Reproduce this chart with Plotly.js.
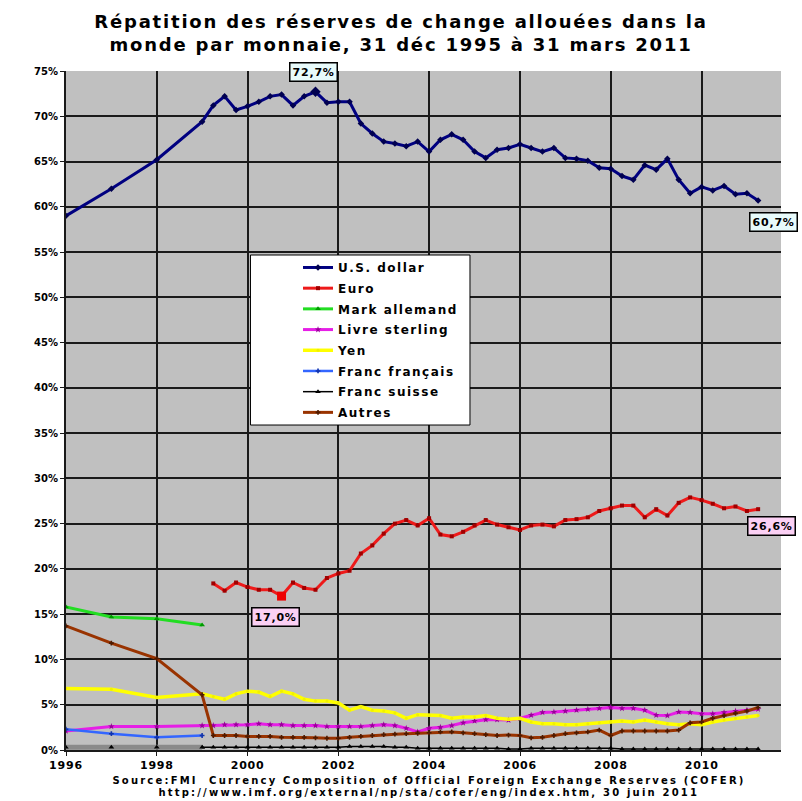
<!DOCTYPE html>
<html>
<head>
<meta charset="utf-8">
<script src="https://cdn.plot.ly/plotly-3.0.1.min.js"></script>
<style>
  html, body { margin: 0; padding: 0; background: #ffffff; }
  #chart { width: 802px; height: 801px; }
  .gtitle { letter-spacing: 1.8px; }
  .legendtext { letter-spacing: 1.5px; }
  .annotation-text { letter-spacing: 0.8px; }
  .xtick text { letter-spacing: 0.8px; }
</style>
</head>
<body>
<div id="chart"></div>
<script>
// ---- Dates (31 Dec of each year 1995-1998, then quarter ends 1999Q1..2011Q1)
const annualDates = ['1995-12-31', '1996-12-31', '1997-12-31', '1998-12-31'];
const quarterDates = [
  '1999-03-31', '1999-06-30', '1999-09-30', '1999-12-31',
  '2000-03-31', '2000-06-30', '2000-09-30', '2000-12-31',
  '2001-03-31', '2001-06-30', '2001-09-30', '2001-12-31',
  '2002-03-31', '2002-06-30', '2002-09-30', '2002-12-31',
  '2003-03-31', '2003-06-30', '2003-09-30', '2003-12-31',
  '2004-03-31', '2004-06-30', '2004-09-30', '2004-12-31',
  '2005-03-31', '2005-06-30', '2005-09-30', '2005-12-31',
  '2006-03-31', '2006-06-30', '2006-09-30', '2006-12-31',
  '2007-03-31', '2007-06-30', '2007-09-30', '2007-12-31',
  '2008-03-31', '2008-06-30', '2008-09-30', '2008-12-31',
  '2009-03-31', '2009-06-30', '2009-09-30', '2009-12-31',
  '2010-03-31', '2010-06-30', '2010-09-30', '2010-12-31',
  '2011-03-31'
];

// ---- Shares (%)
const usdAnnual = [59.0, 62.0, 65.2, 69.4];
const usdQuarterly = [
  71.2, 72.2, 70.7, 71.1,
  71.6, 72.2, 72.4, 71.2,
  72.2, 72.7, 71.5, 71.6,
  71.6, 69.2, 68.1, 67.2,
  67.0, 66.7, 67.2, 66.1,
  67.4, 68.0, 67.4, 66.1,
  65.4, 66.3, 66.5, 66.9,
  66.5, 66.1, 66.5, 65.4,
  65.3, 65.1, 64.3, 64.2,
  63.4, 63.0, 64.6, 64.1,
  65.3, 63.0, 61.5, 62.2,
  61.8, 62.3, 61.4, 61.5,
  60.7
];
const euroQuarterly = [
  18.4, 17.6, 18.5, 18.0,
  17.7, 17.7, 17.0, 18.5,
  17.9, 17.7, 19.0, 19.5,
  19.8, 21.7, 22.6, 23.9,
  25.0, 25.4, 24.8, 25.6,
  23.8, 23.6, 24.1, 24.8,
  25.4, 24.9, 24.6, 24.3,
  24.8, 24.9, 24.7, 25.4,
  25.5, 25.7, 26.4, 26.7,
  27.0, 27.0, 25.7, 26.6,
  25.9, 27.3, 27.9, 27.6,
  27.2, 26.7, 26.9, 26.4,
  26.6
];
const markAnnual = [15.8, 14.7, 14.5, 13.8];
const gbpAnnual = [2.1, 2.6, 2.6, 2.7];
const gbpQuarterly = [
  2.7, 2.8, 2.8, 2.8,
  2.9, 2.8, 2.8, 2.7,
  2.7, 2.7, 2.6, 2.6,
  2.6, 2.6, 2.7, 2.8,
  2.7, 2.4, 2.0, 2.4,
  2.5, 2.7, 3.0, 3.2,
  3.35, 3.35, 3.3, 3.5,
  3.85, 4.15, 4.2, 4.3,
  4.4, 4.5, 4.6, 4.7,
  4.6, 4.6, 4.4, 3.85,
  3.8, 4.2, 4.15, 4.0,
  4.0, 4.15, 4.3, 4.4,
  4.5
];
const jpyAnnual = [6.8, 6.7, 5.8, 6.2];
const jpyQuarterly = [
  5.9, 5.6, 6.2, 6.5,
  6.4, 5.9, 6.5, 6.2,
  5.6, 5.4, 5.4, 5.2,
  4.4, 4.8, 4.4, 4.3,
  4.1, 3.5, 3.9, 3.85,
  3.8, 3.5, 3.65, 3.65,
  3.8, 3.5, 3.4, 3.5,
  3.1, 2.9, 2.9, 2.8,
  2.8, 2.9, 3.0, 3.1,
  3.2, 3.1, 3.3, 3.1,
  2.9, 2.8, 2.9, 2.8,
  3.1, 3.3, 3.5, 3.65,
  3.8
];
const frfAnnual = [2.3, 1.8, 1.4, 1.6];
const chfAnnual = [0.3, 0.3, 0.3, 0.3];
const chfQuarterly = [
  0.3, 0.3, 0.3, 0.3,
  0.3, 0.3, 0.3, 0.3,
  0.3, 0.3, 0.3, 0.3,
  0.4, 0.4, 0.4, 0.4,
  0.3, 0.3, 0.2, 0.2,
  0.2, 0.2, 0.2, 0.2,
  0.2, 0.2, 0.1, 0.1,
  0.2, 0.2, 0.2, 0.2,
  0.2, 0.2, 0.2, 0.2,
  0.1, 0.1, 0.1, 0.1,
  0.1, 0.1, 0.1, 0.1,
  0.1, 0.1, 0.1, 0.1,
  0.1
];
const otherAnnual = [13.7, 11.8, 10.1, 6.1];
const otherQuarterly = [
  1.6, 1.6, 1.6, 1.5,
  1.5, 1.5, 1.4, 1.4,
  1.4, 1.35, 1.3, 1.3,
  1.4, 1.5, 1.6, 1.7,
  1.75, 1.8, 1.85, 1.9,
  2.0, 2.0, 1.9, 1.8,
  1.7, 1.6, 1.65, 1.6,
  1.35, 1.4, 1.6, 1.8,
  1.9, 2.0, 2.2, 1.6,
  2.1, 2.1, 2.1, 2.1,
  2.1, 2.2, 3.0, 3.1,
  3.5, 3.8, 4.05, 4.3,
  4.7
];

const seriesNames = ['U.S. dollar', 'Euro', 'Mark allemand', 'Livre sterling', 'Yen', 'Franc français', 'Franc suisse', 'Autres'];
const yTickVals = [0, 5, 10, 15, 20, 25, 30, 35, 40, 45, 50, 55, 60, 65, 70, 75];
const yTickText = ['0%', '5%', '10%', '15%', '20%', '25%', '30%', '35%', '40%', '45%', '50%', '55%', '60%', '65%', '70%', '75%'];
const xTickVals = ['1996-01-01', '1998-01-01', '2000-01-01', '2002-01-01', '2004-01-01', '2006-01-01', '2008-01-01', '2010-01-01'];
const xTickText = ['1996', '1998', '2000', '2002', '2004', '2006', '2008', '2010'];
const titleLines = ['Répatition des réserves de change allouées dans la', 'monde par monnaie, 31 déc 1995 à 31 mars 2011'];
const sourceLines = ['Source:FMI  Currency Composition of Official Foreign Exchange Reserves (COFER)',
                     'http://www.imf.org/external/np/sta/cofer/eng/index.htm, 30 juin 2011'];

// ---- Build traces
const allDates = annualDates.concat(quarterDates);
const FONT = 'DejaVu Sans, Verdana, sans-serif';

function tr(name, x, y, lineColor, width, symbol, mcolor, msize) {
  return {
    type: 'scatter', mode: 'lines+markers', name: name, legendgroup: name,
    x: x, y: y,
    line: { color: lineColor, width: width },
    marker: { symbol: symbol, color: mcolor, size: msize, line: { width: 0 } },
    hoverinfo: 'skip'
  };
}

const traces = [
  tr(seriesNames[0], allDates, usdAnnual.concat(usdQuarterly), '#000080', 3, 'diamond', '#000050', 5),
  tr(seriesNames[1], quarterDates, euroQuarterly, '#ee1a1a', 3, 'square', '#a00000', 4),
  tr(seriesNames[2], annualDates, markAnnual, '#22dd22', 3, 'triangle-up', '#009900', 5),
  tr(seriesNames[3], allDates, gbpAnnual.concat(gbpQuarterly), '#e61ee6', 3, 'star', '#990099', 5),
  tr(seriesNames[4], allDates, jpyAnnual.concat(jpyQuarterly), '#ffff00', 3.5, 'circle', '#f0f000', 3),
  tr(seriesNames[5], annualDates, frfAnnual, '#3366ff', 2.5, 'cross', '#1133aa', 4),
  tr(seriesNames[6], [annualDates[3]].concat(quarterDates), [chfAnnual[3]].concat(chfQuarterly), '#000000', 1.5, 'triangle-up', '#000000', 5),
  tr(seriesNames[7], allDates, otherAnnual.concat(otherQuarterly), '#993300', 3, 'cross', '#4d1a00', 4)
];
// annual Swiss franc segment drawn as grey band
const chfBand = tr(seriesNames[6], annualDates, chfAnnual, '#8a8a8a', 5, 'triangle-up', '#000000', 5);
chfBand.showlegend = false;
traces.push(chfBand);

// highlight euro minimum / dollar maximum with larger markers
let eMinIdx = 0;
euroQuarterly.forEach((v, i) => { if (v < euroQuarterly[eMinIdx]) eMinIdx = i; });
let uMaxIdx = 0;
usdQuarterly.forEach((v, i) => { if (v > usdQuarterly[uMaxIdx]) uMaxIdx = i; });
traces.push({
  type: 'scatter', mode: 'markers', showlegend: false, hoverinfo: 'skip',
  x: [quarterDates[eMinIdx]], y: [euroQuarterly[eMinIdx]],
  marker: { symbol: 'square', color: '#ee0000', size: 9 }
});
traces.push({
  type: 'scatter', mode: 'markers', showlegend: false, hoverinfo: 'skip',
  x: [quarterDates[uMaxIdx]], y: [usdQuarterly[uMaxIdx]],
  marker: { symbol: 'diamond', color: '#000050', size: 8 }
});

const fmt = v => v.toFixed(1).replace('.', ',') + '%';
const last = quarterDates.length - 1;

function label(x, y, text, bg, xs, ys) {
  return {
    x: x, y: y, xref: 'x', yref: 'y', text: text, showarrow: false,
    xshift: xs, yshift: ys,
    bgcolor: bg, bordercolor: '#000000', borderwidth: 1.5, borderpad: 2,
    font: { family: FONT, size: 11, color: '#000000', weight: 'bold' }
  };
}

const annotations = [
  label(quarterDates[uMaxIdx], usdQuarterly[uMaxIdx], fmt(usdQuarterly[uMaxIdx]), '#e8fbfb', -2, 20),
  label(quarterDates[last], usdQuarterly[last], fmt(usdQuarterly[last]), '#e8fbfb', 15, -22),
  label(quarterDates[eMinIdx], euroQuarterly[eMinIdx], fmt(euroQuarterly[eMinIdx]), '#fbd0f4', -6, -21),
  label(quarterDates[last], euroQuarterly[last], fmt(euroQuarterly[last]), '#fbd0f4', 13, -17),
  {
    xref: 'paper', yref: 'paper', x: 0.508, y: -0.0442, xanchor: 'center', yanchor: 'middle',
    text: sourceLines[0], showarrow: false,
    font: { family: FONT, size: 10, color: '#000000', weight: 'bold' }
  },
  {
    xref: 'paper', yref: 'paper', x: 0.508, y: -0.0633, xanchor: 'center', yanchor: 'middle',
    text: sourceLines[1], showarrow: false,
    font: { family: FONT, size: 10, color: '#000000', weight: 'bold' }
  }
];

const layout = {
  width: 802, height: 801,
  margin: { l: 66, r: 21, t: 71, b: 51, pad: 0 },
  paper_bgcolor: '#ffffff',
  plot_bgcolor: '#c0c0c0',
  showlegend: true,
  title: {
    text: titleLines.join('<br>'),
    x: 0.5, xanchor: 'center', xref: 'container',
    y: 0.9655, yanchor: 'top', yref: 'container',
    font: { family: FONT, size: 18, color: '#000000', weight: 'bold' }
  },
  xaxis: {
    type: 'date',
    range: ['1996-01-01', '2011-10-01'],
    tickvals: xTickVals, ticktext: xTickText,
    showgrid: true, gridcolor: '#1a1a1a', gridwidth: 2,
    showline: true, linecolor: '#1a1a1a', linewidth: 2,
    ticks: 'outside', ticklen: 4, tickcolor: '#1a1a1a',
    zeroline: false,
    tickfont: { family: FONT, size: 11, color: '#000000', weight: 'bold' }
  },
  yaxis: {
    range: [0, 75],
    tickvals: yTickVals, ticktext: yTickText,
    showgrid: true, gridcolor: '#1a1a1a', gridwidth: 2,
    showline: true, linecolor: '#1a1a1a', linewidth: 2,
    ticks: 'outside', ticklen: 4, tickcolor: '#1a1a1a',
    zeroline: false,
    tickfont: { family: FONT, size: 10, color: '#000000', weight: 'bold' }
  },
  legend: {
    x: 0.3245, xanchor: 'left', y: 0.732, yanchor: 'top',
    bgcolor: 'rgba(0,0,0,0)', borderwidth: 0,
    traceorder: 'grouped', tracegroupgap: 1.7,
    font: { family: FONT, size: 12, color: '#000000', weight: 'bold' }
  },
  shapes: [{
    type: 'rect', xref: 'paper', yref: 'paper',
    x0: 0.258, x1: 0.565, y0: 0.4786, y1: 0.729,
    fillcolor: '#ffffff', line: { color: '#000000', width: 1 }, layer: 'above'
  }],
  annotations: annotations
};

Plotly.newPlot('chart', traces, layout, { displayModeBar: false, staticPlot: true }).then(function (gd) {
  // widen the spacing of the two source lines (centered, so they stay centred)
  const texts = gd.querySelectorAll('.annotation-text');
  texts.forEach(function (t) {
    if (sourceLines.indexOf(t.textContent) >= 0) t.style.letterSpacing = '2.2px';
  });
});
</script>
</body>
</html>
